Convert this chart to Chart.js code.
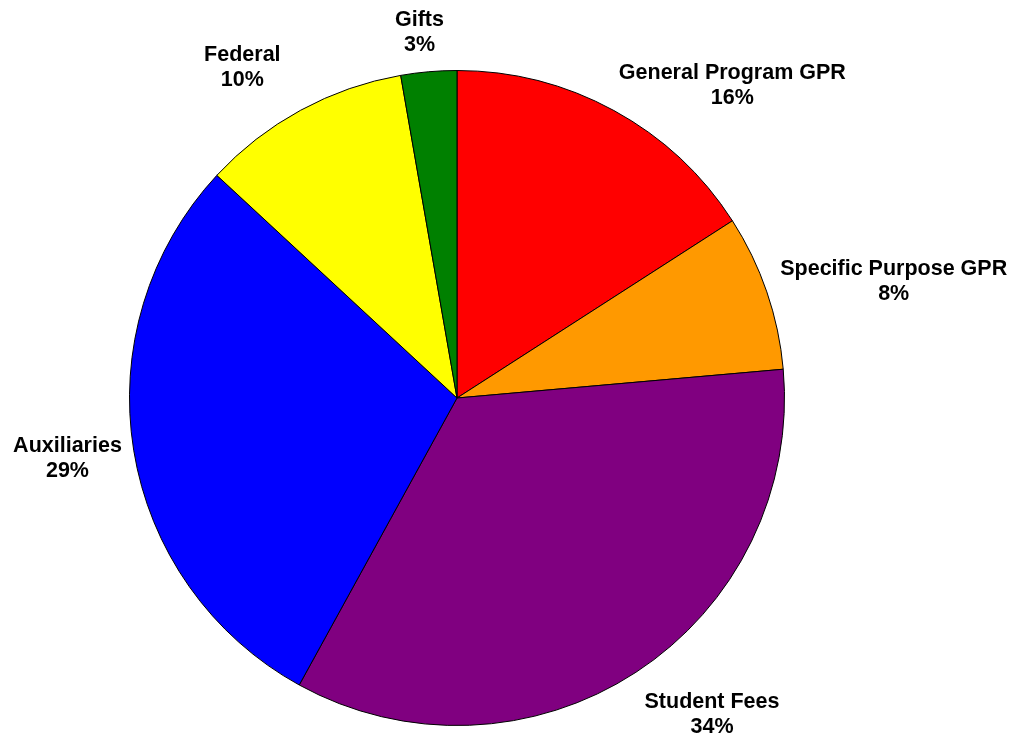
<!DOCTYPE html>
<html>
<head>
<meta charset="utf-8">
<script src="https://cdn.jsdelivr.net/npm/chart.js@4"></script>
<style>
  html, body { margin: 0; padding: 0; background: #fff; }
  #wrap { width: 1018px; height: 740px; }
</style>
</head>
<body>
<div id="wrap"><canvas id="pieChart"></canvas></div>
<script>
// slices, clockwise from 12 o'clock
var labels = ["General Program GPR", "Specific Purpose GPR", "Student Fees", "Auxiliaries", "Federal", "Gifts"];
var shares = [15.9, 7.7, 34.4, 28.9, 10.35, 2.75];
var pctLabels = ["16%", "8%", "34%", "29%", "10%", "3%"];
var colors = ["#FF0000", "#FF9900", "#800080", "#0000FF", "#FFFF00", "#008000"];

// outside labels, placed off each arc's mid angle
var outsideLabels = {
    id: "outsideLabels",
    afterDraw: function(chart) {
        var ctx = chart.ctx;
        var arcs = chart.getDatasetMeta(0).data;
        // small hand nudges so the labels sit like the excel ones
        var nudge = [[4, 11], [2, 10], [2, 7], [0, -2], [-16, -7], [-4, -2]];
        ctx.save();
        ctx.font = "bold 21.5px 'Liberation Sans', Arial, sans-serif";
        ctx.fillStyle = "#000";
        ctx.textAlign = "center";
        ctx.textBaseline = "middle";
        var lineH = 25;
        arcs.forEach(function(arc, i) {
            var mid = (arc.startAngle + arc.endAngle) / 2;
            var r = arc.outerRadius + 12;
            var ax = arc.x + Math.cos(mid) * r;
            var ay = arc.y + Math.sin(mid) * r;
            var lines = [labels[i], pctLabels[i]];
            var w = Math.max(ctx.measureText(lines[0]).width, ctx.measureText(lines[1]).width);
            var h = lineH * 2;
            var kx = Math.max(-1, Math.min(1, Math.cos(mid) * 2));
            var ky = Math.max(-1, Math.min(1, Math.sin(mid) * 2));
            var cx = ax + kx * w / 2 + nudge[i][0];
            var cy = ay + ky * h / 2 + nudge[i][1];
            ctx.fillText(lines[0], cx, cy - lineH / 2);
            ctx.fillText(lines[1], cx, cy + lineH / 2);
        });
        ctx.restore();
    }
};

new Chart(document.getElementById("pieChart"), {
    type: "pie",
    data: {
        labels: labels,
        datasets: [{
            data: shares,
            backgroundColor: colors,
            borderColor: "#000",
            borderWidth: 1
        }]
    },
    options: {
        responsive: true,
        maintainAspectRatio: false,
        animation: false,
        layout: { padding: { left: 129, right: 233, top: 70, bottom: 14 } },
        plugins: {
            legend: { display: false },
            tooltip: { enabled: false }
        }
    },
    plugins: [outsideLabels]
});
</script>
</body>
</html>
